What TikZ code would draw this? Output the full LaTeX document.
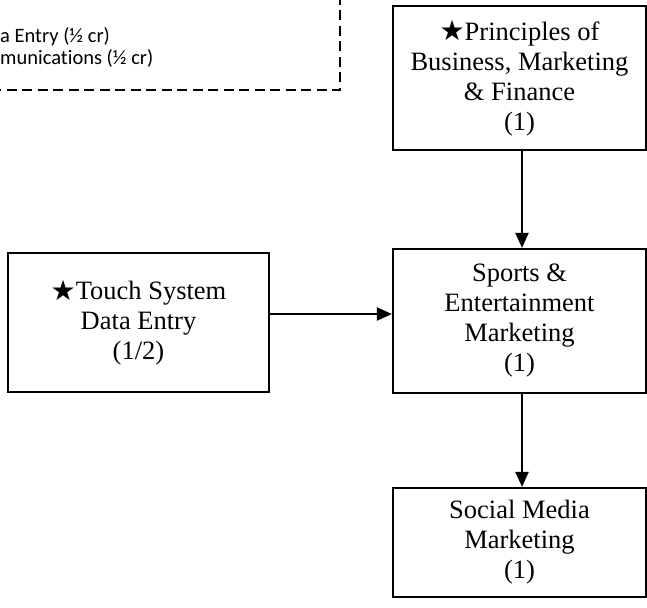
\documentclass[tikz,border=0pt]{standalone}
\usepackage{fontspec}
\setmainfont{Liberation Serif}
\newfontfamily\calfont[Ligatures={NoCommon}]{Carlito}
\newfontfamily\symfont{DejaVu Sans}
\usetikzlibrary{arrows.meta}
\tikzset{
  course/.style={draw=black, line width=2.2pt, align=center, inner sep=0pt,
    font=\fontsize{26.5pt}{30pt}\selectfont, text=black},
  arr/.style={line width=2.2pt, -{Triangle[length=15pt,width=13pt]}},
  dashbox/.style={line width=1.7pt, dash pattern=on 10pt off 5.5pt},
  note/.style={anchor=base west, inner sep=0pt, font=\calfont\fontsize{20.5pt}{22pt}\selectfont}
}
\newcommand{\bstar}{{\symfont\fontsize{28pt}{28pt}\selectfont\raisebox{-0.5pt}{★}}}
\begin{document}
\begin{tikzpicture}[x=1pt,y=1pt]
\useasboundingbox (0,0) rectangle (647,-607);
% dashed box (partly outside picture)
\coordinate (dtop) at (340,5);
\coordinate (dcorner) at (340,-90);
\coordinate (dleft) at (-10,-90);
\draw[dashbox] (dtop) -- (dcorner) -- (dleft);
\node[note] (n1) at (0,-43) {a Entry (½ cr)};
\node[note] (n2) at (0,-65) {munications (½ cr)};
% course boxes
\node[course, minimum width=253pt, minimum height=144pt] (P) at (519.5,-78)
  {\bstar Principles of\\Business, Marketing\\\& Finance\\(1)};
\node[course, minimum width=253pt, minimum height=144pt] (S) at (519.5,-321)
  {Sports \&\\Entertainment\\Marketing\\(1)};
\node[course, minimum width=253pt, minimum height=109pt] (M) at (519.5,-542.5)
  {Social Media\\Marketing\\(1)};
\node[course, minimum width=261pt, minimum height=139pt] (T) at (138.5,-322.5)
  {\bstar Touch System\\Data Entry\\(1/2)};
% connectors
\draw[arr] ([xshift=2.5pt]P.south) -- ([xshift=2.5pt]S.north);
\draw[arr] ([xshift=2.5pt]S.south) -- ([xshift=2.5pt]M.north);
\draw[arr] (T.east |- 0,-314) -- (S.west |- 0,-314);
\end{tikzpicture}
\end{document}
